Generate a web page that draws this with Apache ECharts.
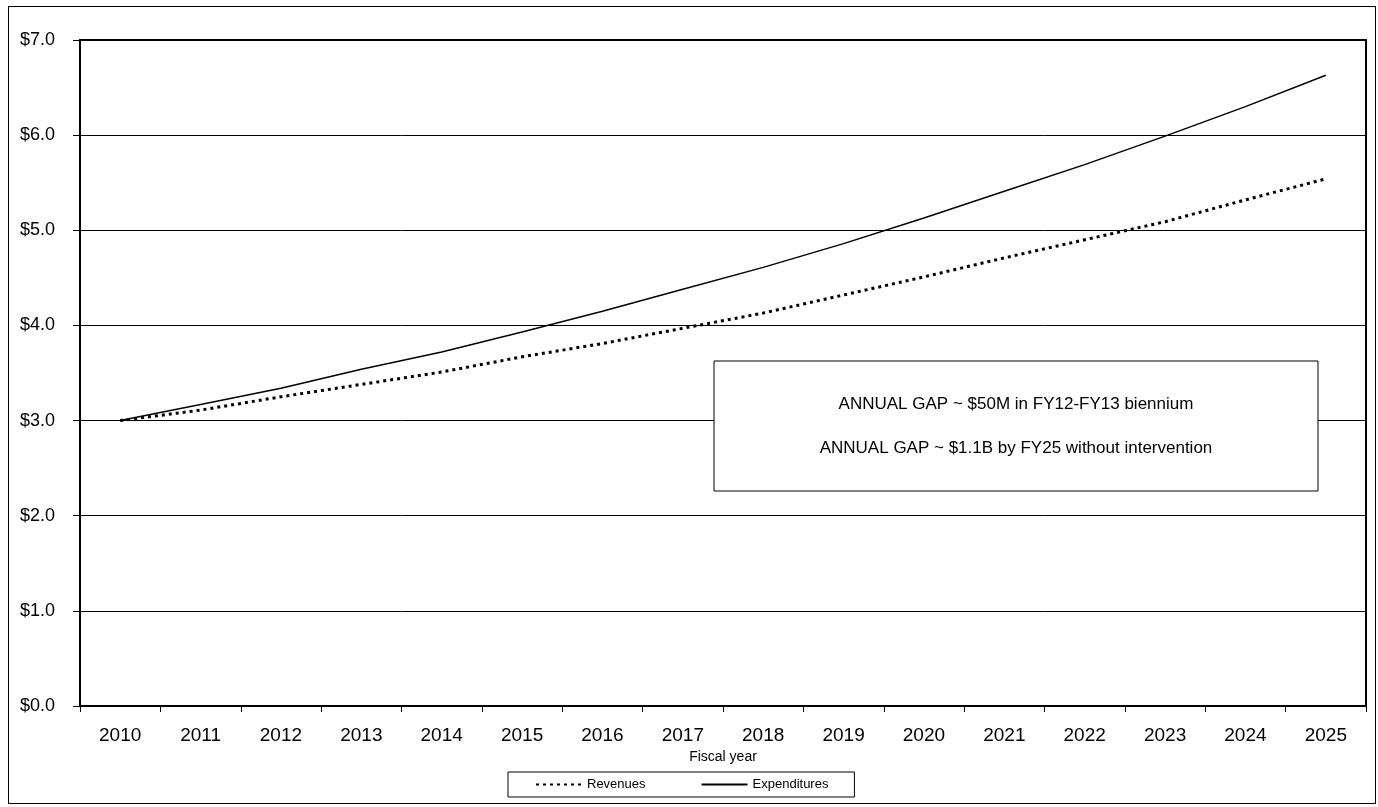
<!DOCTYPE html>
<html>
<head>
    <meta charset="utf-8" />
    <script type="text/javascript" src="https://cdn.jsdelivr.net/npm/echarts@6.0.0/dist/echarts.min.js"></script>
    <style>
      body{
        margin: 0;
        background: #fff;
      }
      .frame{
        position: fixed;
        left: 8px;
        top: 6px;
        width: 1368px;
        height: 798px;
        border: 1.5px solid #000;
        box-sizing: border-box;
      }
      .container{
        width: 1378px;
        height: 807px;
        position: fixed;
        top: 0px;
        left: 0px;
      }
    </style>
</head>
<body>
    <div class="frame"></div>
    <div class="container" id="container"></div>
<script>
// 数据 (单位: 十亿美元)
var years = ['2010','2011','2012','2013','2014','2015','2016','2017','2018','2019','2020','2021','2022','2023','2024','2025'];
var revenues = [3.00, 3.11, 3.25, 3.38, 3.51, 3.67, 3.81, 3.97, 4.13, 4.32, 4.51, 4.71, 4.90, 5.09, 5.32, 5.54];
var expenditures = [3.00, 3.17, 3.34, 3.54, 3.72, 3.93, 4.15, 4.38, 4.61, 4.86, 5.13, 5.41, 5.69, 5.99, 6.30, 6.63];
var noteLines = ['ANNUAL GAP ~ $50M in FY12-FY13 biennium', 'ANNUAL GAP ~ $1.1B by FY25 without intervention'];

var font = 'Arial, "Liberation Sans", sans-serif';
var dom = document.getElementById("container");
var myChart = echarts.init(dom, null, { renderer: 'canvas' });
var option;

option = {
  animation: false,
  textStyle: { fontFamily: font, color: '#000' },
  grid: {
    left: 80,
    top: 40,
    right: 12,
    bottom: 101,
    show: true,
    borderColor: '#000',
    borderWidth: 2,
    containLabel: false
  },
  legend: {
    data: ['Revenues', 'Expenditures'],
    left: 508,
    top: 772,
    padding: [6, 26, 6, 27],
    itemGap: 55,
    itemWidth: 46,
    itemHeight: 14,
    borderColor: '#000',
    borderWidth: 1,
    itemStyle: { opacity: 0 },
    textStyle: { fontFamily: font, fontSize: 13, color: '#000' }
  },
  xAxis: {
    type: 'category',
    data: years,
    boundaryGap: true,
    name: 'Fiscal year',
    nameLocation: 'middle',
    nameGap: 40,
    nameTextStyle: { fontFamily: font, fontSize: 14, color: '#000' },
    axisLine: { lineStyle: { color: '#000', width: 2 } },
    axisTick: { show: true, length: 6, interval: 0, lineStyle: { color: '#000', width: 1 } },
    axisLabel: { fontFamily: font, fontSize: 19, color: '#000', margin: 20, interval: 0 },
    splitLine: { show: false }
  },
  yAxis: {
    type: 'value',
    min: 0,
    max: 7,
    interval: 1,
    axisLine: { show: true, lineStyle: { color: '#000', width: 2 } },
    axisTick: { show: true, length: 7, lineStyle: { color: '#000', width: 1 } },
    axisLabel: {
      fontFamily: font, fontSize: 18, color: '#000', margin: 25,
      formatter: function (v) { return '$' + v.toFixed(1); }
    },
    splitLine: { show: true, lineStyle: { color: '#000', width: 1 } }
  },
  series: [
    {
      name: 'Revenues',
      type: 'line',
      data: revenues,
      symbol: 'none',
      itemStyle: { color: '#000' },
      lineStyle: { color: '#000', width: 3, type: [3, 4] }
    },
    {
      name: 'Expenditures',
      type: 'line',
      data: expenditures,
      symbol: 'none',
      itemStyle: { color: '#000' },
      lineStyle: { color: '#000', width: 1.5, type: 'solid' }
    }
  ],
  graphic: [
    {
      type: 'rect',
      shape: { x: 714, y: 361, width: 604, height: 130 },
      style: { fill: '#fff', stroke: '#000', lineWidth: 1 },
      z: 100
    },
    {
      type: 'text',
      x: 1016,
      y: 404,
      style: { text: noteLines[0], font: '17px ' + font, fill: '#000', textAlign: 'center', textVerticalAlign: 'middle' },
      z: 101
    },
    {
      type: 'text',
      x: 1016,
      y: 448,
      style: { text: noteLines[1], font: '17px ' + font, fill: '#000', textAlign: 'center', textVerticalAlign: 'middle' },
      z: 101
    }
  ]
};

if (option && typeof option === 'object') {
    myChart.setOption(option);
}
</script>
</body>
</html>
